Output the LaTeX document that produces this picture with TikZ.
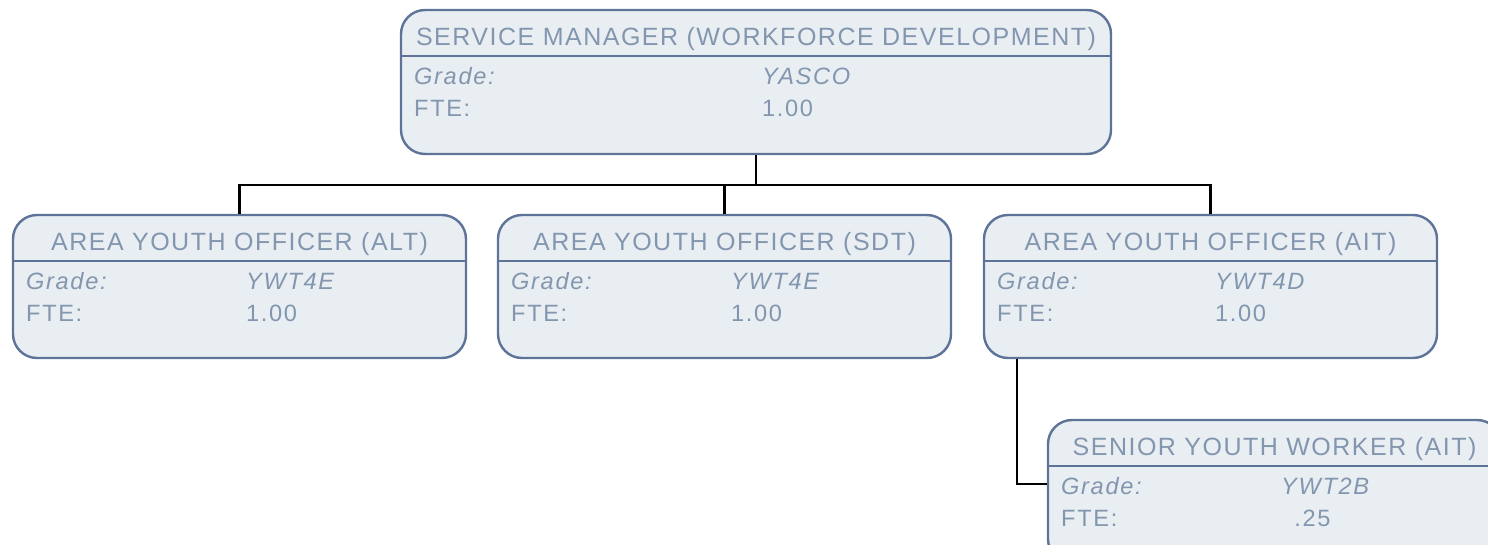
\documentclass[tikz,border=0pt]{standalone}
\usepackage{fontspec}
\setmainfont{Liberation Sans}
\usetikzlibrary{positioning,calc}
\definecolor{boxfill}{HTML}{E9EEF2}
\definecolor{boxline}{HTML}{5E7398}
\definecolor{boxtext}{HTML}{8396AF}

% one post: name, style, centre, title, grade, fte, value column
\newcommand\rolebox[7]{%
  \node[#2] (#1) at #3 {};
  \draw[divider] ([yshift=-23.5pt]#1.north west) -- ([yshift=-23.5pt]#1.north east);
  \node[titletext] (#1-title) at ([yshift=-18.5pt]#1.north) {#4};
  \node[rowtext, font=\rowfont\itshape] (#1-gl) at ([xshift=7pt,yshift=-38pt]#1.north west) {Grade:};
  \node[rowtext, font=\rowfont\itshape] (#1-gv) at ([xshift=#7,yshift=-38pt]#1.north west) {#5};
  \node[rowtext] (#1-fl) at ([xshift=7pt,yshift=-54pt]#1.north west) {FTE:};
  \node[rowtext] (#1-fv) at ([xshift=#7,yshift=-54pt]#1.north west) {#6};
}
\newcommand\rowfont{\fontsize{11.8}{13}\selectfont\addfontfeatures{LetterSpace=7}}
\newcommand\titlefont{\fontsize{12.5}{14}\selectfont\addfontfeatures{LetterSpace=6}}

\begin{document}
\begin{tikzpicture}[x=0.5pt, y=-0.5pt,
    post/.style={rectangle, rounded corners=12pt, draw=boxline, line width=1.2pt,
                 fill=boxfill, minimum width=226.5pt, minimum height=71.5pt, inner sep=0pt},
    toppost/.style={post, minimum width=355pt, minimum height=72pt},
    divider/.style={draw=boxline, line width=1.2pt},
    titletext/.style={anchor=base, inner sep=0pt, text=boxtext, font=\titlefont},
    rowtext/.style={anchor=base west, inner sep=0pt, text=boxtext, font=\rowfont},
    link/.style={draw=black, line width=1.3pt}]
  \useasboundingbox (0,0) rectangle (1488,545);
  \clip (0,0) rectangle (1488,545);

  \rolebox{mgr}{toppost}{(756,82)}{SERVICE MANAGER (WORKFORCE DEVELOPMENT)}{YASCO}{1.00}{181pt}
  \rolebox{alt}{post}{(239.5,286.5)}{AREA YOUTH OFFICER (ALT)}{YWT4E}{1.00}{117pt}
  \rolebox{sdt}{post}{(724.5,286.5)}{AREA YOUTH OFFICER (SDT)}{YWT4E}{1.00}{117pt}
  \rolebox{ait}{post}{(1210.5,286.5)}{AREA YOUTH OFFICER (AIT)}{YWT4D}{1.00}{116pt}
  \rolebox{syw}{post}{(1274.5,491.5)}{SENIOR YOUTH WORKER (AIT)}{YWT2B}{\phantom{1}.25}{117pt}

  % reporting lines
  \coordinate (bus) at ([yshift=-15pt]mgr.south);
  \coordinate (aitdrop) at ([xshift=17pt]ait.south west);
  \coordinate (sywin) at ([yshift=3.75pt]syw.west);
  \draw[link] (mgr.south) -- (bus);
  \draw[link] (bus) -| (alt.north);
  \draw[link] (bus) -| (sdt.north);
  \draw[link] (bus) -| (ait.north);
  \draw[link] (aitdrop) |- (sywin);
\end{tikzpicture}
\end{document}
